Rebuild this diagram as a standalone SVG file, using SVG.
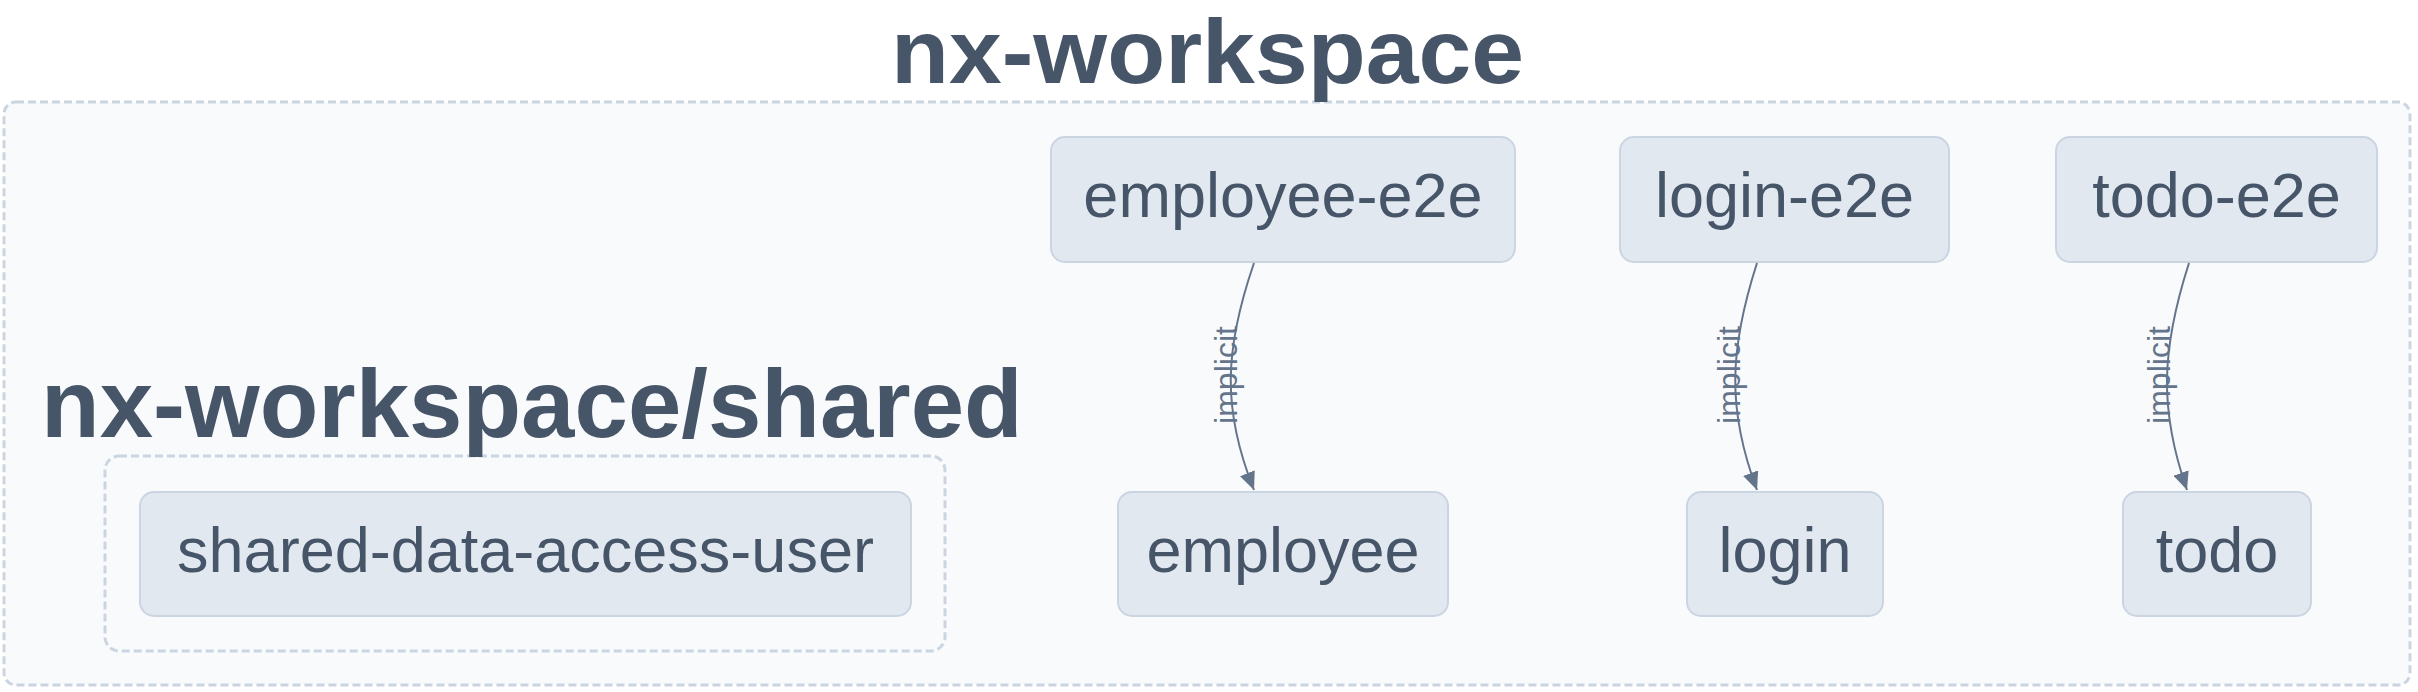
<svg xmlns="http://www.w3.org/2000/svg" width="2418" height="692" viewBox="0 0 2418 692">
<style>
.bg{fill:#ffffff}
.container{fill:#f8fafc;stroke:#cbd5e1;stroke-width:3;stroke-dasharray:8 4}
.inner{fill:none;stroke:#cbd5e1;stroke-width:3;stroke-dasharray:8 4}
.node rect{fill:#e2e8f0;stroke:#cbd5e1;stroke-width:2}
.node text{font-family:"Liberation Sans",Arial,sans-serif;font-size:63px;fill:#475569;text-anchor:middle}
.title{font-family:"Liberation Sans",Arial,sans-serif;font-weight:bold;font-size:96px;fill:#475569}
.edge{fill:none;stroke:#64748b;stroke-width:2}
.elabel{font-family:"Liberation Sans",Arial,sans-serif;font-size:32px;fill:#64748b;text-anchor:middle}
</style>
<defs>
<marker id="arrow" markerUnits="userSpaceOnUse" markerWidth="18" markerHeight="16" refX="18" refY="8" orient="auto" viewBox="0 0 18 16">
<path d="M0,0 L18,8 L0,16 z" fill="#64748b"/>
</marker>
</defs>
<rect class="bg" x="0" y="0" width="2418" height="692"/>
<g id="cluster-nx-workspace">
<rect class="container" x="4" y="102" width="2406" height="583" rx="12"/>
<text class="title" x="891" y="83" style="font-size:91px" textLength="633" lengthAdjust="spacingAndGlyphs">nx-workspace</text>
</g>
<g id="cluster-nx-workspace-shared">
<rect class="inner" x="105" y="456" width="840" height="195" rx="14"/>
<text class="title" x="41" y="437">nx-workspace/shared</text>
</g>
<g id="node-shared-data-access-user" class="node">
<rect x="140" y="492" width="771" height="124" rx="14"/>
<text x="525.5" y="572">shared-data-access-user</text>
</g>
<g id="node-employee-e2e" class="node">
<rect x="1051" y="137" width="464" height="125" rx="14"/>
<text x="1283" y="217">employee-e2e</text>
</g>
<g id="node-login-e2e" class="node">
<rect x="1620" y="137" width="329" height="125" rx="14"/>
<text x="1784.5" y="217">login-e2e</text>
</g>
<g id="node-todo-e2e" class="node">
<rect x="2056" y="137" width="321" height="125" rx="14"/>
<text x="2216.5" y="217">todo-e2e</text>
</g>
<g id="node-employee" class="node">
<rect x="1118" y="492" width="330" height="124" rx="14"/>
<text x="1283" y="572">employee</text>
</g>
<g id="node-login" class="node">
<rect x="1687" y="492" width="196" height="124" rx="14"/>
<text x="1785" y="572">login</text>
</g>
<g id="node-todo" class="node">
<rect x="2123" y="492" width="188" height="124" rx="14"/>
<text x="2217" y="572">todo</text>
</g>
<g id="connectors">
<path class="edge" d="M1254,263 C1224,350 1222,410 1254,490" marker-end="url(#arrow)"/>
<text class="elabel" transform="translate(1237,375) rotate(-90)">implicit</text>
<path class="edge" d="M1757,263 C1729,350 1727,410 1757,490" marker-end="url(#arrow)"/>
<text class="elabel" transform="translate(1740,375) rotate(-90)">implicit</text>
<path class="edge" d="M2189,263 C2161,350 2159,410 2187,490" marker-end="url(#arrow)"/>
<text class="elabel" transform="translate(2170,375) rotate(-90)">implicit</text>
</g>
</svg>
